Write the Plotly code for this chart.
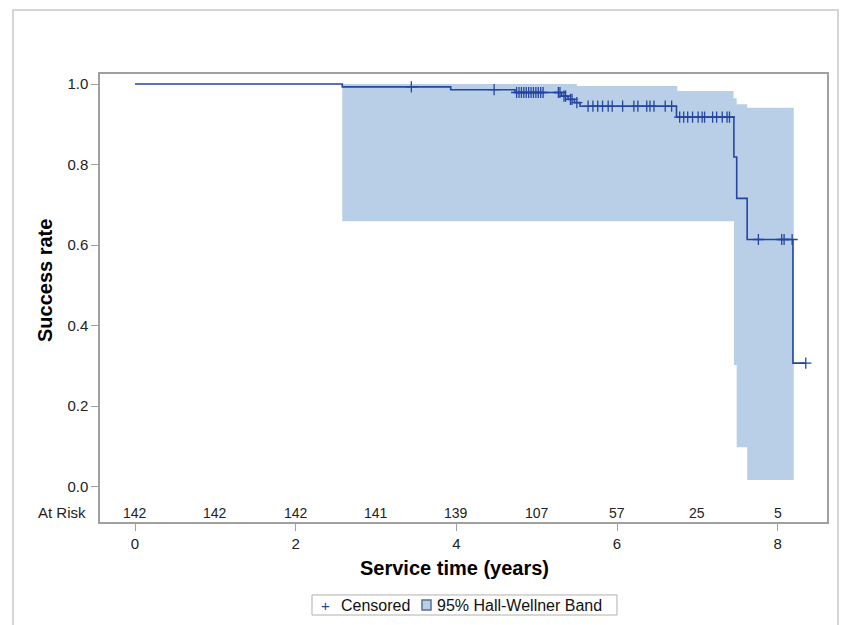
import numpy as np
import plotly.graph_objects as go

# ---- data ----
event_times = [0.0, 2.58, 3.93, 4.73, 5.31, 5.39, 5.47, 5.54, 6.74, 7.455, 7.49, 7.62, 8.19]
surv_values = [1.0, 0.993, 0.986, 0.979, 0.970, 0.962, 0.954, 0.945, 0.918, 0.819, 0.716, 0.614, 0.307]
curve_end = 8.35

censor_times = [3.44, 4.47,
                4.75, 4.78, 4.81, 4.84, 4.87, 4.90, 4.93, 4.96, 4.99, 5.02, 5.05, 5.08,
                5.27, 5.29, 5.34, 5.36, 5.42, 5.44, 5.50,
                5.64, 5.70, 5.76, 5.82, 5.89, 5.94, 6.07, 6.21, 6.26, 6.37, 6.41, 6.46, 6.60, 6.68,
                6.78, 6.83, 6.88, 6.94, 7.01, 7.06, 7.09, 7.19, 7.24, 7.31, 7.37, 7.40,
                7.76, 8.05, 8.08, 8.18, 8.35]

band_upper_times = [2.58, 5.50, 6.75, 7.45, 7.49, 7.62]
band_upper_values = [1.0, 0.995, 0.983, 0.965, 0.950, 0.941]
band_lower_times = [2.58, 7.455, 7.49, 7.62]
band_lower_values = [0.659, 0.302, 0.098, 0.017]
band_end = 8.20

risk_times = [0, 1, 2, 3, 4, 5, 6, 7, 8]
risk_counts = [142, 142, 142, 141, 139, 107, 57, 25, 5]

x_ticks = [0, 2, 4, 6, 8]
y_ticks = [0.0, 0.2, 0.4, 0.6, 0.8, 1.0]

legend_labels = ["Censored", "95% Hall-Wellner Band"]

LINE = "#2446A0"
BAND = "#B9CFE7"
FONT = "Liberation Sans, Arial, sans-serif"


def steps(times, values, end):
    xs, ys = [], []
    for i, (t, v) in enumerate(zip(times, values)):
        nxt = times[i + 1] if i + 1 < len(times) else end
        xs += [t, nxt]
        ys += [v, v]
    return xs, ys


ux, uy = steps(band_upper_times, band_upper_values, band_end)
lx, ly = steps(band_lower_times, band_lower_values, band_end)
poly_x = ux + lx[::-1] + [ux[0]]
poly_y = uy + ly[::-1] + [uy[0]]

cx, cy = steps(event_times, surv_values, curve_end)

et = np.array(event_times)
sv = np.array(surv_values)
cens_y = [float(sv[np.searchsorted(et, t, side="right") - 1]) for t in censor_times]

fig = go.Figure()
fig.add_trace(go.Scatter(x=poly_x, y=poly_y, fill="toself", fillcolor=BAND,
                         line=dict(width=0, color=BAND), mode="lines",
                         name=legend_labels[1], showlegend=False, hoverinfo="skip"))
fig.add_trace(go.Scatter(x=cx, y=cy, mode="lines", line=dict(color=LINE, width=1.6),
                         showlegend=False))
fig.add_trace(go.Scatter(x=censor_times, y=cens_y, mode="markers", name=legend_labels[0],
                         showlegend=False,
                         marker=dict(symbol="cross-thin", size=8,
                                     line=dict(color=LINE, width=1.3), color=LINE)))

for t, n in zip(risk_times, risk_counts):
    fig.add_annotation(x=t, y=-0.065, text=str(n), showarrow=False, xref="x", yref="y",
                       xanchor="center", yanchor="middle",
                       font=dict(family=FONT, size=14, color="#222"))

fig.add_annotation(x=-0.017, y=-0.065, xref="paper", yref="y", text="At Risk",
                   showarrow=False, xanchor="right", yanchor="middle",
                   font=dict(family=FONT, size=15, color="#222"))

fig.add_annotation(x=-0.0757, y=0.54, xref="paper", yref="paper", text="<b>Success rate</b>",
                   textangle=-90, showarrow=False, xanchor="center", yanchor="middle",
                   font=dict(family=FONT, size=20, color="#000"))
fig.add_annotation(x=0.487, y=-0.103, xref="paper", yref="paper",
                   text="<b>Service time (years)</b>", showarrow=False,
                   xanchor="center", yanchor="middle",
                   font=dict(family=FONT, size=20, color="#000"))

# legend drawn by hand (compact, like the reference)
fig.add_shape(type="rect", xref="paper", yref="paper", x0=0.2916, x1=0.7111,
              y0=-0.2076, y1=-0.1629, line=dict(color="#B0B0B0", width=1), fillcolor="white")
fig.add_annotation(x=0.3095, y=-0.1853, xref="paper", yref="paper", text="+",
                   xanchor="center", yanchor="middle",
                   showarrow=False, font=dict(family=FONT, size=15, color=LINE))
fig.add_annotation(x=0.3288, y=-0.1853, xref="paper", yref="paper", text=legend_labels[0],
                   xanchor="left", yanchor="middle",
                   showarrow=False, font=dict(family=FONT, size=16, color="#111"))
fig.add_shape(type="rect", xref="paper", yref="paper", x0=0.4429, x1=0.4553,
              y0=-0.1964, y1=-0.1741, line=dict(color="#5B6F8F", width=1.5), fillcolor=BAND)
fig.add_annotation(x=0.4608, y=-0.1853, xref="paper", yref="paper", text=legend_labels[1],
                   xanchor="left", yanchor="middle",
                   showarrow=False, font=dict(family=FONT, size=16, color="#111"))

# outer frame
fig.add_shape(type="rect", xref="paper", yref="paper", x0=-0.1197, x1=1.0151,
              y0=-0.25, y1=1.1429, line=dict(color="#C8C8C8", width=1.5))

fig.update_layout(
    width=842, height=625,
    margin=dict(l=100, r=15, t=74, b=103),
    paper_bgcolor="white", plot_bgcolor="white",
    showlegend=False,
    font=dict(family=FONT, size=15, color="#222"),
    xaxis=dict(range=[-0.436, 8.614], tickvals=x_ticks, ticks="outside", ticklen=7,
               tickcolor="#A0A0A0", showgrid=False, zeroline=False, showline=True,
               linecolor="#A0A0A0", linewidth=1.5, mirror=True,
               tickfont=dict(family=FONT, size=15, color="#222")),
    yaxis=dict(range=[-0.0876, 1.025], tickvals=y_ticks, tickformat=".1f", ticks="outside",
               ticklen=7, tickcolor="#A0A0A0", showgrid=False, zeroline=False, showline=True,
               linecolor="#A0A0A0", linewidth=1.5, mirror=True,
               tickfont=dict(family=FONT, size=15, color="#222")),
)

fig.write_html("out.html", config={"displayModeBar": False},
               post_script="document.body.style.margin='0';")
